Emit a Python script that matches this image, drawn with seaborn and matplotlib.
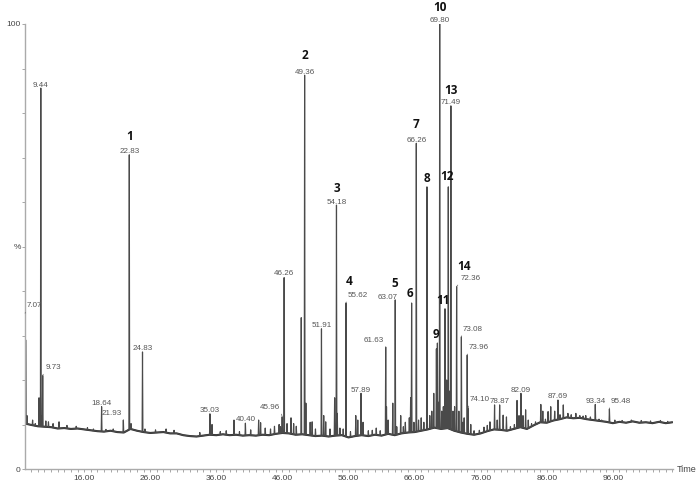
import numpy as np
import pandas as pd
import matplotlib
matplotlib.use("Agg")
import matplotlib.pyplot as plt
import seaborn as sns

# baseline level (% of tallest peak) read along the run, one point per minute
base_t = [7.1, 8, 9, 10, 11, 12, 13, 14, 15, 16, 17, 18, 19, 20, 21, 22, 23, 24, 25, 26,
          27, 28, 29, 30, 31, 32, 33, 34, 35, 36, 37, 38, 39, 40, 41, 42, 43, 44, 45, 46,
          47, 48, 49, 50, 51, 52, 53, 54, 55, 56, 57, 58, 59, 60, 61, 62, 63, 64, 65, 66,
          67, 68, 69, 70, 71, 72, 73, 74, 75, 76, 77, 78, 79, 80, 81, 82, 83, 84, 85, 86,
          87, 88, 89, 90, 91, 92, 93, 94, 95, 96, 97, 98, 99, 100, 101, 102, 103, 104, 105]
base_y = [10.2, 9.9, 9.6, 9.5, 9.4, 9.1, 9.2, 9.0, 9.1, 8.9, 8.7, 8.5, 8.4, 8.6, 8.3, 8.2, 9.0, 8.6, 8.3, 8.1,
          8.2, 8.3, 8.0, 8.0, 7.6, 7.4, 7.3, 7.5, 7.7, 7.6, 7.8, 7.6, 7.7, 7.5, 7.6, 7.5, 7.7, 7.6, 7.9, 8.1,
          8.0, 7.7, 7.8, 7.6, 7.4, 7.5, 7.3, 7.5, 7.6, 7.1, 7.4, 7.6, 7.4, 7.7, 7.5, 7.9, 7.6, 8.0, 8.2, 8.3,
          8.6, 8.9, 9.3, 9.0, 9.2, 8.6, 8.2, 7.9, 7.7, 8.0, 8.5, 8.9, 8.8, 8.6, 9.0, 9.4, 9.0, 9.8, 10.5, 10.4,
          10.9, 11.2, 11.6, 11.4, 11.5, 11.2, 11.0, 10.8, 10.6, 10.3, 10.6, 10.4, 10.7, 10.4, 10.5, 10.3, 10.6, 10.3, 10.5]

# peaks labelled with their retention time
peak_t = [7.07, 9.44, 9.73, 18.64, 21.93, 22.83, 24.83, 35.03, 40.40, 45.96, 46.26, 49.36,
          51.91, 54.18, 55.62, 57.89, 61.63, 63.07, 66.26, 69.80, 71.49, 72.36, 73.08, 73.96,
          74.10, 78.87, 82.09, 87.69, 93.34, 95.48]
peak_h = [35.0, 85.6, 21.0, 14.0, 11.0, 70.6, 26.3, 12.4, 10.3, 11.7, 43.0, 88.5,
          31.5, 59.3, 37.3, 17.0, 27.4, 38.0, 73.2, 100.0, 81.6, 41.0, 29.7, 25.6,
          13.7, 14.4, 17.0, 15.5, 14.5, 13.5]

# peaks that only carry a compound number
numbered_t = [65.55, 67.87, 69.45, 70.60, 71.10]
numbered_h = [37.3, 63.4, 28.3, 36.0, 63.4]

# compound numbers and the peak they sit on
compound_no = ['1', '2', '3', '4', '5', '6', '7', '8', '9', '10', '11', '12', '13', '14']
compound_t = [22.83, 49.36, 54.18, 55.62, 63.07, 65.55, 66.26, 67.87, 69.45, 69.80,
              70.60, 71.10, 71.49, 72.36]

# small unlabelled peaks
minor_t = [7.15, 7.35, 8.2, 8.6, 9.17, 9.3, 9.6, 10.2, 10.6, 11.3, 12.2, 13.4, 14.8, 16.5,
           17.4, 19.3, 20.4, 23.1, 25.2, 26.8, 28.4, 29.6, 33.5, 35.35, 36.6, 37.5, 38.67,
           39.5, 41.2, 42.4, 42.7, 43.4, 44.2, 44.8, 45.5, 45.7, 46.7, 47.3, 47.7, 48.1,
           48.85, 49.55, 50.2, 50.5, 51.0, 52.25, 52.55, 53.2, 53.9, 54.3, 54.7, 55.2, 56.3,
           57.1, 57.4, 58.2, 59.0, 59.6, 60.2, 60.8, 61.75, 62.0, 62.7, 63.3, 63.9, 64.3,
           64.6, 65.2, 65.4, 65.9, 66.6, 67.0, 67.4, 68.3, 68.6, 68.9, 69.3, 69.6, 70.1,
           70.35, 70.85, 71.3, 71.8, 72.05, 72.7, 73.3, 73.5, 74.5, 75.0, 75.8, 76.5, 77.0,
           77.4, 78.1, 78.5, 79.4, 79.9, 80.5, 81.1, 81.5, 81.8, 82.4, 82.8, 83.2, 83.7,
           84.3, 85.1, 85.4, 85.8, 86.2, 86.6, 87.2, 88.0, 88.5, 89.2, 89.7, 90.4, 91.0,
           91.5, 91.9, 92.6, 93.9, 94.3, 96.3, 97.4, 98.8, 100.3, 101.7, 103.2, 104.3]
minor_h = [29.0, 12.0, 11.0, 10.2, 16.0, 13.0, 12.0, 10.8, 10.6, 10.2, 10.6, 9.8, 9.6, 9.3,
           9.0, 8.9, 9.0, 10.2, 9.0, 8.8, 9.0, 8.7, 8.2, 10.0, 8.4, 8.6, 11.0,
           8.4, 8.8, 11.0, 10.4, 9.2, 9.0, 9.6, 10.0, 9.5, 10.2, 11.5, 10.2, 9.6,
           34.0, 14.8, 10.5, 10.6, 9.0, 12.0, 10.6, 9.0, 16.0, 12.5, 9.2, 9.0, 8.4,
           12.0, 11.0, 10.5, 8.6, 8.7, 9.2, 8.6, 14.0, 11.0, 14.8, 9.5, 12.0, 9.5,
           10.5, 11.5, 16.0, 10.5, 11.0, 11.5, 10.5, 12.0, 13.0, 17.0, 27.0, 15.0, 13.0,
           14.0, 20.0, 17.5, 13.0, 14.0, 13.0, 10.5, 11.5, 10.0, 8.6, 8.7, 9.4, 9.8,
           10.6, 14.4, 11.0, 12.1, 11.7, 9.5, 10.0, 15.4, 12.0, 12.0, 13.3, 11.0, 10.2,
           10.6, 14.5, 13.0, 11.2, 12.9, 14.0, 13.0, 12.2, 14.4, 12.5, 12.2, 12.5, 12.0,
           11.9, 12.0, 11.7, 11.2, 11.0, 11.0, 10.9, 11.0, 10.9, 10.8, 10.9, 10.7]

# placement of the time labels: (dx, dy) in points from the peak top, alignment, leader line
time_pos = {
    7.07: (1.2, 4.5, 'left', True), 9.73: (1.8, 4.7, 'left', True),
    21.93: (-1.2, 3.8, 'right', True), 45.96: (-1.2, 5.8, 'right', True),
    55.62: (1.2, 4.5, 'left', True), 61.63: (-1.2, 3.8, 'right', True),
    63.07: (1.4, 1.0, 'right', False), 72.36: (3.2, 4.5, 'left', True),
    73.08: (1.2, 4.5, 'left', True), 73.96: (1.2, 4.5, 'left', True),
    74.10: (1.2, 5.2, 'left', True), 95.48: (0.6, 4.5, 'left', True),
    46.26: (0, 2.2, 'center', False), 24.83: (0, 1.4, 'center', False),
    18.64: (0, 1.4, 'center', False), 40.40: (0, 1.4, 'center', False),
}
# placement of the compound numbers: (dx, dy) in points from the peak top
num_pos = {'1': (0, 10.8), '2': (0, 11.5), '3': (0, 9.4), '4': (2.2, 13.0), '5': (0, 9.4),
           '6': (-1.4, 4.3), '7': (0, 10.8), '8': (0, 3.6), '9': (-1.4, 3.6), '10': (0, 9.4),
           '11': (-1.4, 3.6), '12': (-0.7, 5.0), '13': (0, 8.6), '14': (5.0, 12.2)}

sns.set_style('ticks')
plt.rcParams['font.family'] = ['Liberation Sans', 'DejaVu Sans']

# build the trace: baseline plus a narrow spike for every peak
all_t = peak_t + numbered_t + minor_t
all_h = peak_h + numbered_h + minor_h
pts = [(t, y) for t, y in zip(base_t, base_y) if min(abs(t - p) for p in all_t) > 0.1]
for t, h in zip(all_t, all_h):
    foot = np.interp(t, base_t, base_y)
    pts += [(t - 0.06, foot), (t, h), (t + 0.06, foot)]
trace = pd.DataFrame(pts, columns=['time', 'pct']).sort_values('time')
baseline = pd.DataFrame({'time': base_t, 'pct': base_y})

fig = plt.figure(figsize=(6.99, 4.84), dpi=100)
ax = fig.add_axes([25 / 699, 15 / 484, 648 / 699, 445 / 484])
# thick dark baseline under the spiky trace, like the noisy detector signal
sns.lineplot(data=baseline, x='time', y='pct', estimator=None, sort=False,
             color='#2e2e2e', linewidth=1.5, ax=ax)
sns.lineplot(data=trace, x='time', y='pct', estimator=None, sort=False,
             color='#4a4a4a', linewidth=0.85, ax=ax)

ax.set_xlim(7.05, 105.1)
ax.set_ylim(0, 100)
ax.set_xlabel('')
ax.set_ylabel('')
ax.set_xticks(np.arange(16, 97, 10))
ax.set_xticklabels([f'{v:.2f}' for v in np.arange(16, 97, 10)])
ax.set_xticks(np.arange(8, 106, 1), minor=True)
ax.set_yticks(np.arange(0, 101, 10))
ax.set_yticklabels(['0', '', '', '', '', '%', '', '', '', '', '100'])
ax.tick_params(axis='x', which='both', direction='out', length=2.2, width=0.6,
               color='#999999', labelsize=6, labelcolor='#444444', pad=1.8)
ax.tick_params(axis='y', direction='out', length=2.2, width=0.6,
               color='#999999', labelsize=6, labelcolor='#444444', pad=0.8)
for s in ['top', 'right']:
    ax.spines[s].set_visible(False)
for s in ['left', 'bottom']:
    ax.spines[s].set_color('#aaaaaa')
    ax.spines[s].set_linewidth(1.0)
ax.text(1.006, 0, 'Time', transform=ax.transAxes, ha='left', va='center',
        fontsize=6.5, color='#444444')

heights = dict(zip(peak_t + numbered_t, peak_h + numbered_h))
for t, h in zip(peak_t, peak_h):
    dx, dy, ha, lead = time_pos.get(t, (0, 1.1, 'center', False))
    arrow = None
    if lead:
        rel = (0, 0.2) if ha == 'left' else (1, 0.2)
        arrow = dict(arrowstyle='-', color='#777777', lw=0.6, shrinkA=0, shrinkB=0, relpos=rel)
    ax.annotate(f'{t:.2f}', xy=(t, h), xytext=(dx, dy), textcoords='offset points',
                ha=ha, va='baseline', fontsize=5.8, color='#555555',
                arrowprops=arrow, annotation_clip=False)

for no, t in zip(compound_no, compound_t):
    dx, dy = num_pos[no]
    ax.annotate(no, xy=(t, heights[t]), xytext=(dx, dy), textcoords='offset points',
                ha='center', va='baseline', fontsize=8.5, fontweight='bold',
                family=['Open Sans', 'DejaVu Sans'], color='#111111', annotation_clip=False)

fig.savefig('out.png', dpi=100)
